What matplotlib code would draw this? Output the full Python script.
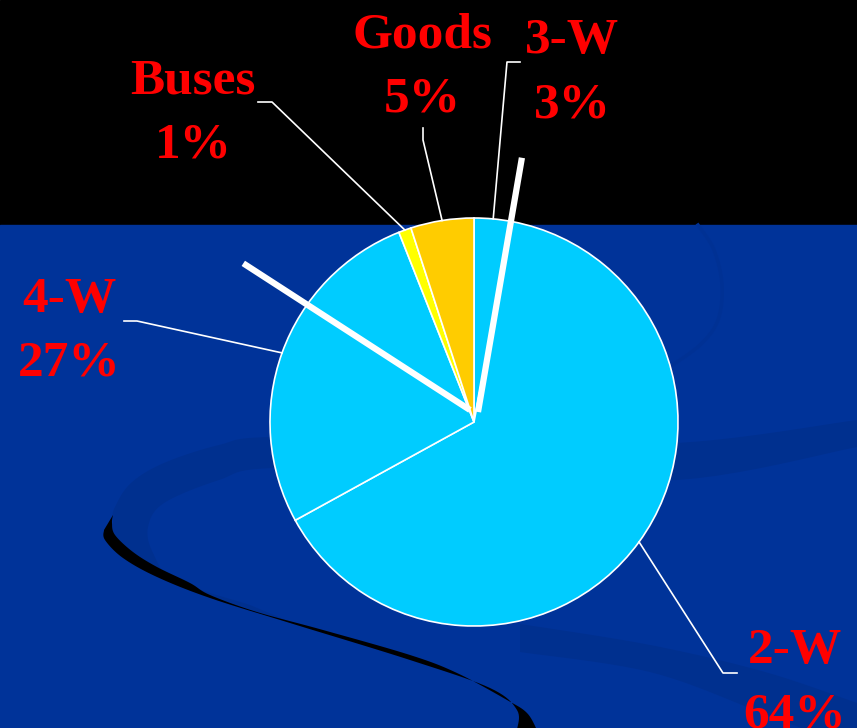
import numpy as np
import matplotlib
matplotlib.use("Agg")
import matplotlib.pyplot as plt
from matplotlib.patches import Polygon, Rectangle

W, H = 857, 728

# vehicle mix (%)
segments = ["3-W", "2-W", "4-W", "Buses", "Goods"]
shares = [3, 64, 27, 1, 5]
colors = ["#00CCFF", "#00CCFF", "#00CCFF", "#FFFF00", "#FFCC00"]

# layout in pixels (y measured from the top)
center = (474, 422)
radius = 204
name_pos = {"3-W": (572, 53), "2-W": (795, 663), "4-W": (69, 312),
            "Buses": (193, 93), "Goods": (422, 47)}
leader_pts = {"3-W": [(507, 62), (520, 62)], "Goods": [(423, 140), (423, 128)],
              "Buses": [(272, 102), (258, 102)], "4-W": [(137, 321), (124, 321)],
              "2-W": [(723, 673), (737, 673)]}
line_gap = 64

# background ribbons
band_upper = [(857, 420), (677, 443), (475, 440), (273, 437), (219, 445), (164, 463),
              (131, 483), (115, 507), (113, 520), (118, 545), (157, 567), (210, 595),
              (300, 626), (250, 605), (175, 580), (153, 553), (148, 527), (164, 503),
              (219, 480), (273, 468), (475, 470), (677, 480), (857, 447)]
band_lower = [(520, 624), (650, 645), (765, 672), (857, 703),
              (857, 750), (760, 712), (650, 672), (520, 652)]
shadow_top = [(113, 515), (112, 523), (115, 535), (133, 552), (157, 567), (190, 583),
              (210, 595), (257, 612), (323, 630), (410, 655), (457, 673), (507, 700),
              (527, 713), (537, 730)]
shadow_bottom = [(104, 530), (105, 540), (123, 558), (157, 577), (210, 598), (290, 623),
                 (410, 660), (490, 688), (517, 710), (517, 730)]
arc = [(698, 225), (714, 250), (722, 285), (718, 320), (700, 345), (668, 368)]


def smooth(pts, n=10):
    p = np.asarray(pts, float)
    p = np.vstack([p[0], p, p[-1]])
    out = []
    t = np.linspace(0, 1, n, endpoint=False)[:, None]
    for i in range(1, len(p) - 2):
        p0, p1, p2, p3 = p[i - 1], p[i], p[i + 1], p[i + 2]
        out.append(0.5 * (2 * p1 + (-p0 + p2) * t + (2 * p0 - 5 * p1 + 4 * p2 - p3) * t ** 2
                          + (-p0 + 3 * p1 - 3 * p2 + p3) * t ** 3))
    out.append(p[-2][None])
    q = np.vstack(out)
    q[:, 1] = H - q[:, 1]
    return q


def fy(y):
    return H - y


fig = plt.figure(figsize=(W / 100, H / 100), dpi=100)
ax = fig.add_axes([0, 0, 1, 1])

wedges, _ = ax.pie(shares, colors=colors, startangle=90, counterclock=False,
                   center=(center[0], fy(center[1])), radius=radius,
                   wedgeprops=dict(edgecolor="white", linewidth=1.2))
for w in wedges:
    w.set_zorder(3)

ax.add_patch(Rectangle((0, fy(225)), W, 225, color="black", zorder=0))
ax.add_patch(Rectangle((0, 0), W, fy(225), color="#003399", zorder=0))
ax.add_patch(Polygon(smooth(band_upper[:13]).tolist() + smooth(band_upper[13:]).tolist(),
                     closed=True, color="#00308f", lw=0, zorder=1))
ax.add_patch(Polygon(smooth(band_lower[:4]).tolist() + smooth(band_lower[4:]).tolist(),
                     closed=True, color="#00308f", lw=0, zorder=1))
ax.add_patch(Polygon(smooth(shadow_top).tolist() + smooth(shadow_bottom[::-1]).tolist(),
                     closed=True, color="black", lw=0, zorder=1.5))
a = smooth(arc)
ax.plot(a[:, 0], a[:, 1], color="#003194", lw=2.5, zorder=1)

# leader lines + labels
cx, cy = center[0], fy(center[1])
for w, name, val in zip(wedges, segments, shares):
    mid = np.deg2rad((w.theta1 + w.theta2) / 2)
    xs = [cx + radius * np.cos(mid)] + [p[0] for p in leader_pts[name]]
    ys = [cy + radius * np.sin(mid)] + [fy(p[1]) for p in leader_pts[name]]
    ax.plot(xs, ys, color="white", lw=1.2, zorder=4)
    tx, ty = name_pos[name]
    for s, yy in [(name, ty), (f"{val}%", ty + line_gap)]:
        ax.text(tx, fy(yy), s, ha="center", va="baseline", color="#FF0000",
                fontsize=37, fontweight="bold", family="Liberation Serif", zorder=6)

# the two thick white strokes across the pie
for ang, length, start in [(80.2, 258, (478, 412)), (147.1, 270, (470, 410))]:
    sx, sy = start[0], fy(start[1])
    r = np.deg2rad(ang)
    ax.plot([sx, sx + length * np.cos(r)], [sy, sy + length * np.sin(r)],
            color="white", lw=4.5, solid_capstyle="butt", zorder=5)

ax.set_xlim(0, W)
ax.set_ylim(0, H)
ax.set_aspect("equal")
ax.axis("off")
fig.savefig("out.png", dpi=100)
